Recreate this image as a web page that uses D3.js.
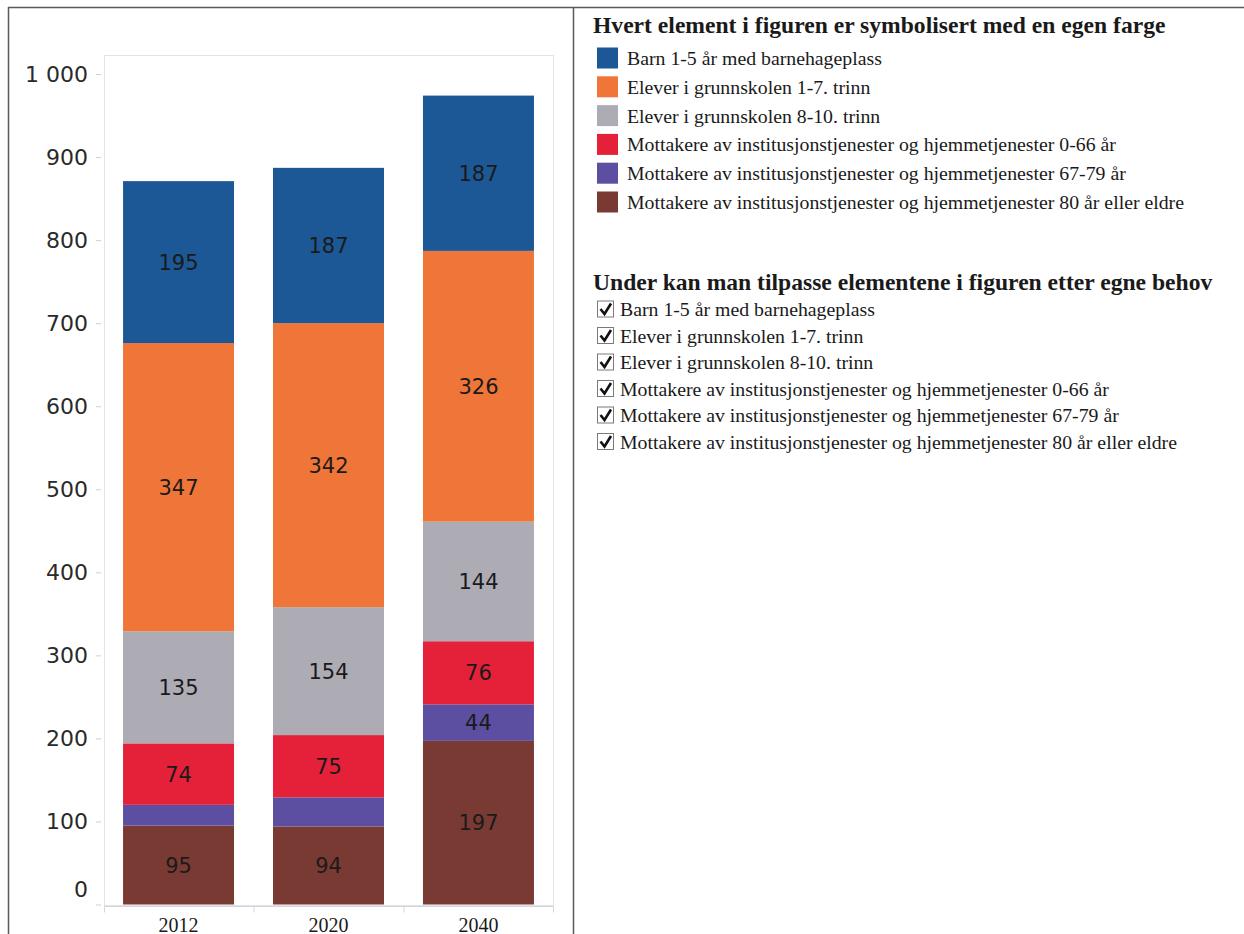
<!DOCTYPE html>
<html><head><meta charset="utf-8">
<script src="https://cdn.jsdelivr.net/npm/d3@7"></script>
<style>body{margin:0;background:#fff;}</style>
</head><body>
<svg id="c" width="1244" height="934"></svg>
<script>
// ---------- DATA ----------
const categories = ["2012", "2020", "2040"];
const seriesLabels = [
  "Barn 1-5 år med barnehageplass",
  "Elever i grunnskolen 1-7. trinn",
  "Elever i grunnskolen 8-10. trinn",
  "Mottakere av institusjonstjenester og hjemmetjenester 0-66 år",
  "Mottakere av institusjonstjenester og hjemmetjenester 67-79 år",
  "Mottakere av institusjonstjenester og hjemmetjenester 80 år eller eldre"
];
const barnVals    = [195, 187, 187];
const elev17Vals  = [347, 342, 326];
const elev810Vals = [135, 154, 144];
const mott066Vals = [74, 75, 76];
const mott6779Vals= [25, 35, 44];
const mott80Vals  = [95, 94, 197];
const yTickValues = [0, 100, 200, 300, 400, 500, 600, 700, 800, 900, 1000];
const seriesColors = ["#1d5896", "#ef7638", "#adacb4", "#e5213a", "#5c4ea0", "#7a3a34"];
const legendTitle1 = "Hvert element i figuren er symbolisert med en egen farge";
const legendTitle2 = "Under kan man tilpasse elementene i figuren etter egne behov";

// ---------- BUILD ----------
const keys = ["s0","s1","s2","s3","s4","s5"];
const allVals = [barnVals, elev17Vals, elev810Vals, mott066Vals, mott6779Vals, mott80Vals];
const rows = categories.map((c, i) => {
  const r = {cat: c};
  keys.forEach((k, j) => r[k] = allVals[j][i]);
  return r;
});
const stackKeys = keys.slice().reverse(); // bottom: 80+ ... top: barn
const stacked = d3.stack().keys(stackKeys)(rows);
const colorOf = k => seriesColors[keys.indexOf(k)];

const svg = d3.select("#c");

// frame
const frame = svg.append("g").attr("stroke", "#5a5a5a").attr("stroke-width", 1.5);
frame.append("line").attr("x1", 8).attr("x2", 1244).attr("y1", 7.5).attr("y2", 7.5);
frame.append("line").attr("x1", 8.5).attr("x2", 8.5).attr("y1", 7).attr("y2", 934);
frame.append("line").attr("x1", 573.5).attr("x2", 573.5).attr("y1", 7).attr("y2", 934);

// scales
const plot = {left: 104, right: 553, top: 56, bottom: 906};
const x = d3.scaleBand().domain(categories).range([plot.left, plot.right])
  .paddingInner(0.26).paddingOuter(0.127);
const y = d3.scaleLinear().domain([0, 1000]).range([904.5, 74]);

// plot box
svg.append("rect").attr("x", plot.left + 0.5).attr("y", plot.top - 0.5)
  .attr("width", plot.right - plot.left).attr("height", plot.bottom - plot.top)
  .attr("fill", "none").attr("stroke", "#e2e2ea").attr("stroke-width", 1);

// y axis
const fmt = d3.formatLocale({decimal: ",", thousands: "\u00a0", grouping: [3], currency: ["", ""]}).format(",d");
const yAxis = svg.append("g").attr("transform", `translate(${plot.left - 3},0)`)
  .call(d3.axisLeft(y).tickValues(yTickValues).tickFormat(fmt).tickSize(5).tickPadding(8));
yAxis.select(".domain").remove();
yAxis.selectAll(".tick line").attr("stroke", "#cfcfd6");
yAxis.selectAll(".tick text").attr("font-family", "DejaVu Sans, Verdana, sans-serif")
  .attr("font-size", 22).attr("fill", "#2a2a2a");
yAxis.selectAll(".tick").filter(d => d === 0).select("text").attr("dy", "-0.35em");

// bars
const layer = svg.append("g").selectAll("g").data(stacked).join("g")
  .attr("fill", d => colorOf(d.key));
layer.selectAll("rect").data(d => d).join("rect")
  .attr("x", d => x(d.data.cat)).attr("width", x.bandwidth())
  .attr("y", d => y(d[1])).attr("height", d => y(d[0]) - y(d[1]));

// value labels
const labelG = svg.append("g");
stacked.forEach(s => {
  s.forEach(d => {
    const v = d[1] - d[0];
    if (v < 40) return;
    labelG.append("text")
      .attr("x", x(d.data.cat) + x.bandwidth() / 2)
      .attr("y", (y(d[0]) + y(d[1])) / 2)
      .attr("dy", "0.36em")
      .attr("text-anchor", "middle")
      .attr("font-family", "DejaVu Sans, Verdana, sans-serif")
      .attr("font-size", 21).attr("fill", "#1a1a1a")
      .text(v);
  });
});

// x axis
const xAxis = svg.append("g").attr("transform", `translate(0,${plot.bottom + 0.5})`);
xAxis.append("line").attr("x1", plot.left).attr("x2", plot.right).attr("stroke", "#d4d4dc");
const bounds = [plot.left, ...categories.slice(1).map(c => x(c) - x.step() * x.paddingInner() / 2), plot.right];
xAxis.selectAll(".sep").data(bounds).join("line").attr("class", "sep")
  .attr("x1", d => d + 0.5).attr("x2", d => d + 0.5).attr("y1", 0).attr("y2", 6).attr("stroke", "#d4d4dc");
xAxis.selectAll("text").data(categories).join("text")
  .attr("x", d => x(d) + x.bandwidth() / 2).attr("y", 25)
  .attr("text-anchor", "middle")
  .attr("font-family", "Liberation Serif, Times New Roman, serif")
  .attr("font-size", 20).attr("fill", "#1a1a1a").text(d => d);

// legend 1
const serif = "Liberation Serif, Times New Roman, serif";
const lg = svg.append("g");
lg.append("text").attr("x", 593).attr("y", 33).attr("font-family", serif)
  .attr("font-weight", "bold").attr("font-size", 23.6).attr("fill", "#1a1a1a").text(legendTitle1);
const l1 = lg.selectAll(".l1").data(seriesLabels).join("g").attr("class", "l1")
  .attr("transform", (d, i) => `translate(0,${58 + i * 28.8})`);
l1.append("rect").attr("x", 597).attr("y", -10.5).attr("width", 21).attr("height", 21)
  .attr("fill", (d, i) => seriesColors[i]);
l1.append("text").attr("x", 627).attr("y", 7).attr("font-family", serif)
  .attr("font-size", 19.8).attr("fill", "#1a1a1a").text(d => d);

// legend 2
lg.append("text").attr("x", 593).attr("y", 290).attr("font-family", serif)
  .attr("font-weight", "bold").attr("font-size", 23.6).attr("fill", "#1a1a1a").text(legendTitle2);
const l2 = lg.selectAll(".l2").data(seriesLabels).join("g").attr("class", "l2")
  .attr("transform", (d, i) => `translate(0,${309 + i * 26.5})`);
l2.append("rect").attr("x", 597.5).attr("y", -8).attr("width", 16).attr("height", 16)
  .attr("fill", "#fff").attr("stroke", "#7a7a7a").attr("stroke-width", 1);
l2.append("path").attr("d", "M600.5,0 L604.5,5 L611,-5.5")
  .attr("fill", "none").attr("stroke", "#111").attr("stroke-width", 2.6);
l2.append("text").attr("x", 620).attr("y", 7).attr("font-family", serif)
  .attr("font-size", 19.8).attr("fill", "#1a1a1a").text(d => d);
</script>
</body></html>
